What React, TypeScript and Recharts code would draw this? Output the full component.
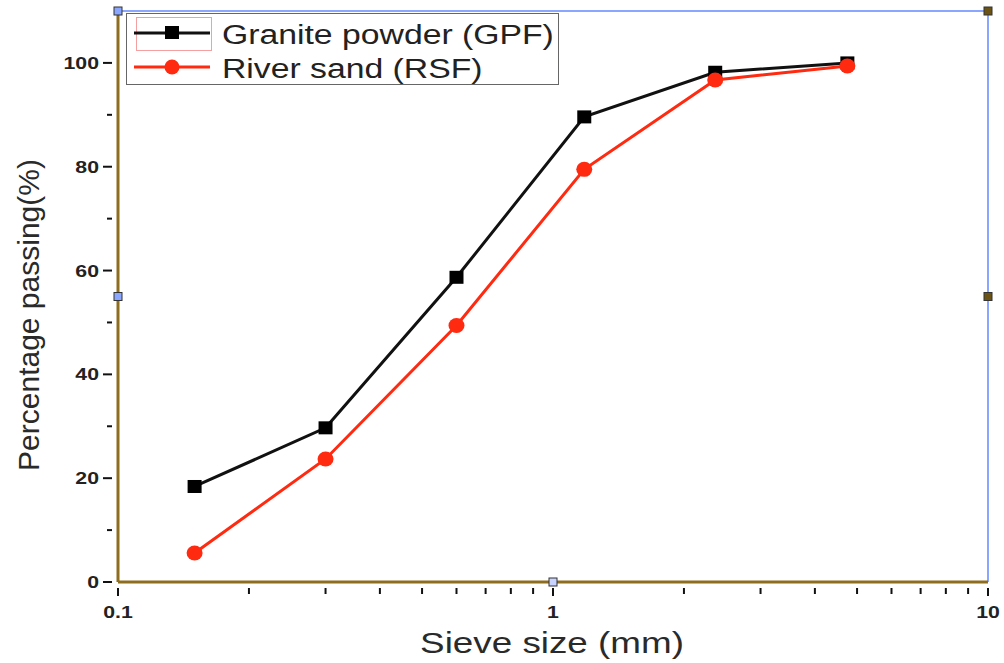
import React from "react";
import {
  LineChart,
  Line,
  XAxis,
  YAxis,
  ReferenceLine,
  ReferenceDot,
  Legend,
} from "recharts";

const sieveSizes = [0.15, 0.3, 0.6, 1.18, 2.36, 4.75];
const graniteGPF = [18.4, 29.7, 58.7, 89.6, 98.2, 100];
const riverRSF = [5.6, 23.7, 49.4, 79.5, 96.7, 99.4];
const seriesNames = ["Granite powder (GPF)", "River sand (RSF)"];
const xTicks = [0.1, 0.2, 0.3, 0.4, 0.5, 0.6, 0.7, 0.8, 0.9, 1, 2, 3, 4, 5, 6, 7, 8, 9, 10];
const xMajor = [0.1, 1, 10];
const yTicks = [0, 10, 20, 30, 40, 50, 60, 70, 80, 90, 100, 110];
const yMajor = [0, 20, 40, 60, 80, 100];

const data = sieveSizes.map((s, i) => ({ size: s, gpf: graniteGPF[i], rsf: riverRSF[i] }));

const FONT = "'Liberation Sans', Arial, sans-serif";
const AXIS_COLOR = "#8e6d1e";
const BORDER_BLUE = "#8aa6ff";

const XTick = (props: any) => {
  const { x, y, payload } = props;
  const v = payload.value;
  const major = xMajor.some((m) => Math.abs(m - v) < 1e-9);
  return (
    <g>
      <line x1={x} x2={x} y1={y - 2} y2={y + (major ? 6 : 4)} stroke="#111" strokeWidth={2} />
      {major && (
        <text
          transform={`translate(${x},${y + 28}) scale(1.25,1)`}
          textAnchor="middle"
          fontFamily={FONT}
          fontWeight="bold"
          fontSize={17}
          fill="#222"
        >
          {String(v)}
        </text>
      )}
    </g>
  );
};

const YTick = (props: any) => {
  const { x, y, payload } = props;
  const v = payload.value;
  const major = yMajor.includes(v);
  if (v === 110) return <g />;
  return (
    <g>
      <line x1={x + 2} x2={x - (major ? 7 : 3)} y1={y} y2={y} stroke="#111" strokeWidth={2} />
      {major && (
        <text
          transform={`translate(${x - 11},${y + 6}) scale(1.25,1)`}
          textAnchor="end"
          fontFamily={FONT}
          fontWeight="bold"
          fontSize={17}
          fill="#222"
        >
          {String(v)}
        </text>
      )}
    </g>
  );
};

const Handle = (props: any) => {
  const { cx, cy, fill } = props;
  return <rect x={cx - 4} y={cy - 4} width={8} height={8} fill={fill} stroke="#333" strokeWidth={1} />;
};

const LegendBox = () => (
  <svg width={434} height={73} style={{ display: "block" }}>
    <rect x={0.5} y={0.5} width={432} height={71} fill="#fff" stroke="#666" strokeWidth={1} />
    <rect x={10.5} y={4.5} width={75} height={33} fill="none" stroke="#f4a0a0" strokeWidth={1} />
    <line x1={8} x2={84} y1={20} y2={20} stroke="#111" strokeWidth={3} />
    <rect x={39} y={13} width={14} height={13} fill="#000" />
    <text transform="translate(96,31) scale(1.25,1)" fontFamily={FONT} fontSize={27} fill="#222">
      {seriesNames[0]}
    </text>
    <line x1={8} x2={84} y1={54} y2={54} stroke="#ff2a10" strokeWidth={3} />
    <circle cx={46} cy={54} r={7.5} fill="#ff2a10" />
    <text transform="translate(96,65) scale(1.25,1)" fontFamily={FONT} fontSize={27} fill="#222">
      {seriesNames[1]}
    </text>
  </svg>
);

const SquareDot = (props: any) => {
  const { cx, cy } = props;
  if (cx == null || cy == null) return <g />;
  return <rect x={cx - 7} y={cy - 6.5} width={14} height={13} fill="#000" />;
};

const CircleDot = (props: any) => {
  const { cx, cy } = props;
  if (cx == null || cy == null) return <g />;
  return <ellipse cx={cx} cy={cy} rx={8} ry={7.5} fill="#ff2a10" />;
};

export default function App() {
  return (
    <div style={{ position: "absolute", left: 0, top: 0, width: 1004, height: 663, background: "#fff" }}>
      <LineChart
        width={1004}
        height={663}
        data={data}
        margin={{ top: 11, right: 16, bottom: 0, left: 0 }}
      >
        <XAxis
          dataKey="size"
          type="number"
          scale="log"
          domain={[0.1, 10]}
          ticks={xTicks}
          interval={0}
          allowDataOverflow
          height={81}
          tick={<XTick />}
          tickLine={false}
          axisLine={{ stroke: AXIS_COLOR, strokeWidth: 3 }}
          label={{
            content: () => (
              <text
                transform="translate(552,653) scale(1.27,1)"
                textAnchor="middle"
                fontFamily={FONT}
                fontSize={29}
                fill="#2a2a2a"
              >
                Sieve size (mm)
              </text>
            ),
          }}
        />
        <YAxis
          type="number"
          domain={[0, 110]}
          ticks={yTicks}
          interval={0}
          allowDataOverflow
          width={118}
          tick={<YTick />}
          tickLine={false}
          axisLine={{ stroke: AXIS_COLOR, strokeWidth: 3 }}
          label={{
            content: () => (
              <text
                transform="translate(39,315) rotate(-90)"
                textAnchor="middle"
                fontFamily={FONT}
                fontSize={30}
                fill="#2a2a2a"
              >
                Percentage passing(%)
              </text>
            ),
          }}
        />
        <ReferenceLine y={110} stroke={BORDER_BLUE} strokeWidth={2} />
        <ReferenceLine x={10} stroke={BORDER_BLUE} strokeWidth={2} />
        <Line
          type="linear"
          dataKey="gpf"
          name={seriesNames[0]}
          stroke="#111"
          strokeWidth={3}
          dot={<SquareDot />}
          activeDot={false}
          isAnimationActive={false}
        />
        <Line
          type="linear"
          dataKey="rsf"
          name={seriesNames[1]}
          stroke="#ff2a10"
          strokeWidth={3}
          dot={<CircleDot />}
          activeDot={false}
          isAnimationActive={false}
        />
        <ReferenceDot x={10} y={110} r={4} fill="#6b5315" shape={<Handle />} />
        <ReferenceDot x={10} y={55} r={4} fill="#6b5315" shape={<Handle />} />
        <ReferenceDot x={0.1} y={110} r={4} fill="#8aa6ff" shape={<Handle />} />
        <ReferenceDot x={0.1} y={55} r={4} fill="#8aa6ff" shape={<Handle />} />
        <ReferenceDot x={1} y={0} r={4} fill="#c8d4ff" shape={<Handle />} />
        <Legend
          layout="vertical"
          align="center"
          verticalAlign="middle"
          content={() => <LegendBox />}
          wrapperStyle={{ position: "absolute", left: 126, top: 13, width: 434, height: 73 }}
        />
      </LineChart>
    </div>
  );
}
